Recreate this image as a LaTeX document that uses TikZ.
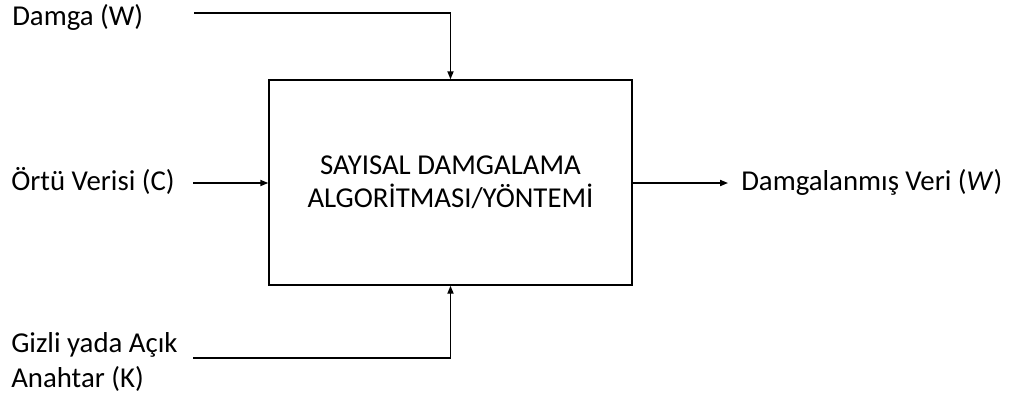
\documentclass[tikz,border=0pt]{standalone}
\usepackage{fontspec}
\setmainfont{Carlito}
\usetikzlibrary{arrows.meta}
\begin{document}
\begin{tikzpicture}[x=0.75pt,y=-0.75pt,
  lbl/.style={inner sep=0pt,font=\fontsize{21.6}{26.25}\selectfont},
  wire/.style={line width=1.1pt},
  arr/.style={wire,-{Triangle[length=6pt,width=4.6pt]}}]
\useasboundingbox (0,0) rectangle (1018,401);
\node[draw,line width=1.1pt,minimum width=363*0.75pt,minimum height=205*0.75pt,
  align=center,font=\fontsize{21.6}{24.75}\selectfont] (box) at (450.5,182.5)
  {SAYISAL DAMGALAMA\\ALGOR\.ITMASI/YÖNTEM\.I};
\node[lbl,anchor=base west] (damga) at (12,25) {Damga (W)};
\node[lbl,anchor=base west] (ortu) at (11,190) {Örtü Verisi (C)};
\node[lbl,anchor=base west,align=left] (key) at (11,387) {Gizli yada Açık\\Anahtar (K)};
\node[lbl,anchor=base west] (out) at (741,190) {Damgalanmış Veri (\textit{W})};
\coordinate (s1) at (194,13);
\coordinate (s2) at (193,183);
\coordinate (s3) at (193,358);
\coordinate (e4) at (728,183);
\draw[arr] (s1) -| (box.north);
\draw[arr] (s2) -- (s2 -| box.west);
\draw[arr] (s3) -| (box.south);
\draw[arr] (e4 -| box.east) -- (e4);
\end{tikzpicture}
\end{document}
